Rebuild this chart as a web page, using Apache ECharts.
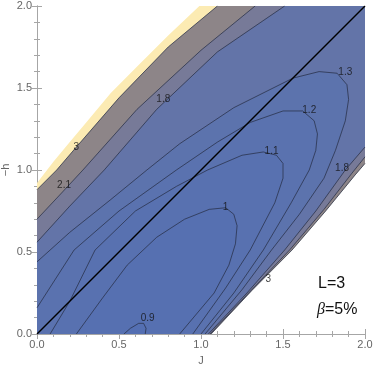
<!DOCTYPE html>
<html>
<head>
<meta charset="utf-8">
<script src="https://cdn.jsdelivr.net/npm/echarts@6/dist/echarts.min.js"></script>
<style>
  html, body { margin: 0; padding: 0; background: #fff; }
  #chart { width: 374px; height: 373px; }
</style>
</head>
<body>
<div id="chart"></div>
<script>
// contour curves, as [J, -h]
const contour09 = [[0.53, 0], [0.57, 0.035], [0.62, 0.065], [0.65, 0.065], [0.665, 0.035], [0.66, 0]];
const contour10 = [[0.24, 0], [0.4, 0.22], [0.55, 0.42], [0.73, 0.59], [0.9, 0.7], [1.05, 0.76], [1.15, 0.77],
  [1.2, 0.73], [1.22, 0.66], [1.21, 0.55], [1.17, 0.42], [1.08, 0.25], [0.87, 0]];
const contour11 = [[0.08, 0], [0.2, 0.2], [0.354, 0.512], [0.6, 0.75], [0.85, 0.9], [1.04, 1.0], [1.25, 1.09],
  [1.38, 1.11], [1.46, 1.09], [1.5, 1.04], [1.5, 0.95], [1.45, 0.8], [1.3, 0.512], [1.15, 0.28], [0.95, 0]];
const contour12 = [[0, 0.16], [0.226, 0.512], [0.5, 0.75], [0.85, 1.0], [1.1, 1.17], [1.3, 1.29], [1.5, 1.36],
  [1.62, 1.36], [1.69, 1.3], [1.71, 1.22], [1.7, 1.12], [1.66, 1.0], [1.55, 0.8], [1.38, 0.512], [1.2, 0.25], [1.0, 0]];
const contour13 = [[0, 0.44], [0.2, 0.62], [0.45, 0.82], [0.67, 1.0], [0.87, 1.16], [1.2, 1.38], [1.56, 1.56],
  [1.72, 1.6], [1.83, 1.59], [1.89, 1.52], [1.9, 1.43], [1.88, 1.3], [1.82, 1.12], [1.75, 0.95], [1.6, 0.73],
  [1.43, 0.512], [1.25, 0.27], [1.025, 0]];
const contour18Left = [[0, 0.56], [0.2, 0.78], [0.41, 1.0], [0.73, 1.37], [1.1, 1.72], [1.51, 2.0]];
const contour18Right = [[1.045, 0], [1.28, 0.25], [1.51, 0.512], [1.7, 0.75], [1.88, 1.0], [2.0, 1.14]];
const contour21Left = [[0, 0.7], [0.15, 0.86], [0.28, 1.0], [0.61, 1.37], [1.0, 1.73], [1.33, 2.0]];
const contour21Right = [[1.055, 0], [1.3, 0.26], [1.54, 0.512], [1.75, 0.76], [1.92, 0.98], [2.0, 1.08]];
const contour3Left = [[0, 0.88], [0.12, 1.0], [0.24, 1.14], [0.5, 1.44], [0.8, 1.75], [1.1, 2.0]];
const contour3Right = [[1.062, 0], [1.31, 0.265], [1.555, 0.512], [1.76, 0.75], [1.94, 0.97], [2.0, 1.04]];
const edgeLeft = [[0, 0.92], [0.1, 1.05], [0.2, 1.17], [0.3, 1.29], [0.45, 1.47], [0.6, 1.62], [0.8, 1.82], [0.99, 2.0]];
const diagonal = [[0, 0], [2, 2]];

const contourLabels = [
  [0.675, 0.095, '0.9'], [1.15, 0.775, '1'], [1.43, 1.115, '1.1'], [1.66, 1.365, '1.2'], [1.88, 1.595, '1.3'],
  [0.77, 1.43, '1.8'], [1.86, 1.01, '1.8'], [0.165, 0.91, '2.1'], [0.24, 1.14, '3'], [1.41, 0.335, '3']
];

const xTicks = [0, 0.5, 1, 1.5, 2];
const yTicks = [0, 0.5, 1, 1.5, 2];

const chart = echarts.init(document.getElementById('chart'));

// region below a level: between the left/top branch and the right/bottom branch
const band = (left, right) => [[0, 0], ...left, [2, 2], ...right.slice().reverse()];
const fromCorner = (pts) => [[0, 0], ...pts];

const fillSeries = (poly, color) => ({
  type: 'custom',
  clip: true,
  silent: true,
  data: [[0, 0]],
  renderItem: (params, api) => ({
    type: 'polygon',
    shape: { points: poly.map(p => api.coord(p)) },
    style: { fill: color }
  }),
  z: 1
});

const lineSeries = (pts, color, width) => ({
  type: 'line',
  data: pts,
  showSymbol: false,
  silent: true,
  lineStyle: { color: color, width: width },
  z: 3
});

const contourColor = 'rgba(40, 48, 72, 0.75)';

const fills = [
  fillSeries(band(edgeLeft, contour3Right), '#fcebb3'),
  fillSeries(band(contour3Left, contour3Right), '#8d8588'),
  fillSeries(band(contour21Left, contour21Right), '#777a98'),
  fillSeries(band(contour18Left, contour18Right), '#6374a8'),
  fillSeries(fromCorner(contour13), '#5c73ad'),
  fillSeries(fromCorner(contour12), '#5a72af'),
  fillSeries(contour11, '#5871b0'),
  fillSeries(contour10, '#5670b1'),
  fillSeries(contour09, '#546fb2')
];

const lines = [contour09, contour10, contour11, contour12, contour13,
  contour18Left, contour18Right, contour21Left, contour21Right, contour3Left, contour3Right]
  .map(c => lineSeries(c, contourColor, 1));

const axisCommon = {
  type: 'value',
  min: 0,
  max: 2,
  interval: 0.5,
  axisLine: { show: true, lineStyle: { color: '#a6a6a6', width: 1 } },
  axisTick: { show: true, inside: true, length: 5, lineStyle: { color: '#a6a6a6' } },
  minorTick: { show: true, splitNumber: 5, length: 3, lineStyle: { color: '#a6a6a6' } },
  splitLine: { show: false },
  axisLabel: { color: '#666', fontSize: 11, fontFamily: 'Liberation Sans, Arial', formatter: v => v.toFixed(1) }
};

chart.setOption({
  animation: false,
  grid: { left: 37, right: 9, top: 6, bottom: 39, outerBoundsMode: 'none', containLabel: false },
  xAxis: [
    { ...axisCommon, position: 'bottom', customValues: xTicks, name: 'J', nameLocation: 'middle', nameGap: 21,
      nameMoveOverlap: false,
      nameTextStyle: { color: '#666', fontSize: 11, fontFamily: 'Liberation Sans, Arial' },
      axisLabel: { ...axisCommon.axisLabel, margin: 5 } },
    { ...axisCommon, position: 'top', axisLabel: { show: false } }
  ],
  yAxis: [
    { ...axisCommon, position: 'left', customValues: yTicks, name: '\u2212h', nameLocation: 'middle', nameGap: 26,
      nameRotate: 90, nameMoveOverlap: false,
      nameTextStyle: { color: '#666', fontSize: 11, fontFamily: 'Liberation Sans, Arial' },
      axisLabel: { ...axisCommon.axisLabel, margin: 5 } },
    { ...axisCommon, position: 'right', axisLabel: { show: false } }
  ],
  graphic: [
    { type: 'text', left: 318, top: 276, style: { text: 'L=3', fontSize: 16, fill: '#111', fontFamily: 'Liberation Sans, Arial' } },
    { type: 'text', left: 317, top: 302, style: {
      text: '{b|\u03b2}=5%', fontSize: 16, fill: '#111', fontFamily: 'Liberation Sans, Arial',
      rich: { b: { fontStyle: 'italic', fontSize: 16, fontFamily: 'Liberation Serif, serif' } } } }
  ],
  series: [
    ...fills,
    ...lines,
    lineSeries(diagonal, '#000', 1.5),
    {
      type: 'scatter',
      data: contourLabels,
      symbolSize: 0,
      silent: true,
      z: 5,
      label: {
        show: true,
        position: 'inside',
        formatter: p => p.value[2],
        color: '#111',
        fontSize: 10,
        fontFamily: 'Liberation Sans, Arial'
      }
    }
  ]
});
</script>
</body>
</html>
